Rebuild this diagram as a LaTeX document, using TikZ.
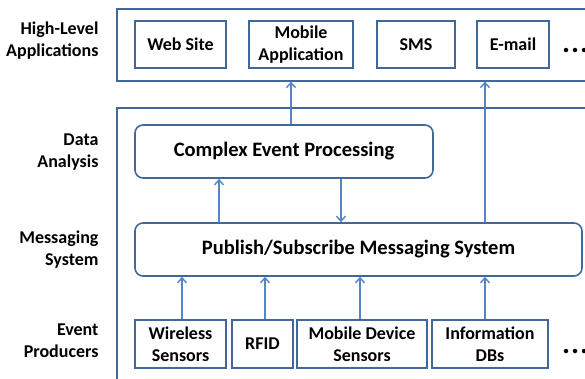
\documentclass[tikz,border=0pt]{standalone}
\usepackage{fontspec}
\setmainfont{Carlito}
\usetikzlibrary{arrows.meta}
\definecolor{boxc}{HTML}{41689B}
\definecolor{arrc}{HTML}{5585C5}
\begin{document}
\begin{tikzpicture}[x=1pt,y=-1pt,
  every node/.style={font=\fontsize{18}{22}\selectfont\bfseries, text=black},
  outer/.style={draw=boxc, line width=1.6pt, anchor=north west, inner sep=0pt},
  sbox/.style={draw=boxc, line width=1.6pt, align=center, inner sep=0pt},
  rbox/.style={sbox, rounded corners=8pt, font=\fontsize{20.5}{24}\selectfont\bfseries},
  lab/.style={anchor=east, align=right, font=\fontsize{18}{22}\selectfont\bfseries},
  arr/.style={draw=arrc, line width=1.6pt, -{Straight Barb[length=5pt,width=9pt,line width=1.4pt]}},
  dot/.style={fill=black, circle, inner sep=0pt, minimum size=4.5pt}
]
\useasboundingbox (0,0) rectangle (585,378);
\clip (0,0) rectangle (585,378);
% outer containers
\node[outer, minimum width=490pt, minimum height=72pt] (apps) at (116,8) {};
\node[outer, minimum width=490pt, minimum height=300pt] (lower) at (116,107) {};
% left labels
\node[lab] (l1) at (102,41) {High-Level\\Applications};
\node[lab] (l2) at (102,152) {Data\\Analysis};
\node[lab] (l3) at (102,250) {Messaging\\System};
\node[lab] (l4) at (102,341) {Event\\Producers};
% applications
\node[sbox, minimum width=91pt, minimum height=47pt] (web) at (180.5,44.5) {Web Site};
\node[sbox, minimum width=104pt, minimum height=47pt] (mob) at (301,44.5) {Mobile\\Application};
\node[sbox, minimum width=78pt, minimum height=47pt] (sms) at (416,44.5) {SMS};
\node[sbox, minimum width=72pt, minimum height=47pt] (mail) at (513,44.5) {E-mail};
\node[dot] (d1) at (566,50) {};
\node[dot] (d2) at (575,50) {};
\node[dot] (d3) at (584,50) {};
% middle
\node[rbox, minimum width=298pt, minimum height=53pt] (cep) at (284,151.5) {Complex Event Processing};
\node[rbox, minimum width=447pt, minimum height=53pt] (pub) at (358.5,249.5) {Publish/Subscribe Messaging System};
% producers
\node[sbox, minimum width=91pt, minimum height=48pt] (ws) at (180.5,344) {Wireless\\Sensors};
\node[sbox, minimum width=61pt, minimum height=48pt] (rfid) at (262.5,344) {RFID};
\node[sbox, minimum width=130pt, minimum height=48pt] (mds) at (362,344) {Mobile Device\\Sensors};
\node[sbox, minimum width=116pt, minimum height=48pt] (idb) at (490,344) {Information\\DBs};
\node[dot] (d4) at (566,351) {};
\node[dot] (d5) at (575,351) {};
\node[dot] (d6) at (584,351) {};
% arrows
\draw[arr] (cep.north -| 291,0) -- (apps.south -| 291,0);
\draw[arr] (pub.north -| 485,0) -- (apps.south -| 485,0);
\draw[arr] (pub.north -| 219,0) -- (cep.south -| 219,0);
\draw[arr] (cep.south -| 341,0) -- (pub.north -| 341,0);
\draw[arr] (ws.north -| 182,0) -- (pub.south -| 182,0);
\draw[arr] (rfid.north -| 265,0) -- (pub.south -| 265,0);
\draw[arr] (mds.north -| 360,0) -- (pub.south -| 360,0);
\draw[arr] (idb.north -| 485,0) -- (pub.south -| 485,0);
\end{tikzpicture}
\end{document}
